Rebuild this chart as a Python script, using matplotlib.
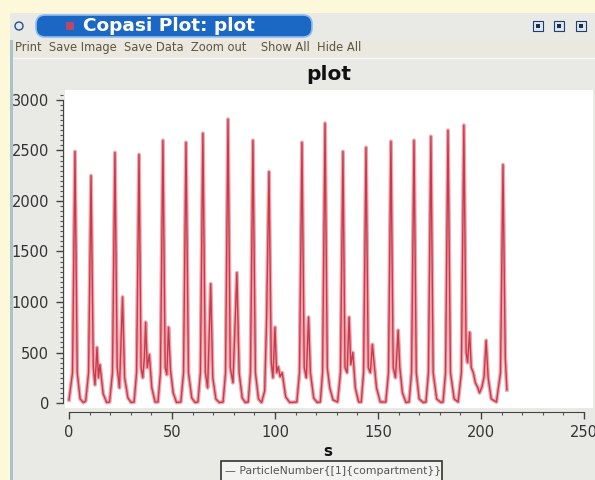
import matplotlib
matplotlib.use('Agg')
import matplotlib.pyplot as plt
import numpy as np
from matplotlib.patches import Rectangle, FancyBboxPatch, Circle
from matplotlib.ticker import MultipleLocator

# time course (one row per oscillation)
time_s = [
    0.0, 1.7, 2.9, 4.0, 5.4, 7.0,
    8.1, 9.5, 10.7, 11.8, 12.6, 13.6, 14.3, 15.0, 16.6, 18.3, 19.7,
    21.1, 22.3, 23.4, 24.5, 26.0, 27.0, 28.6, 30.2, 31.6,
    32.8, 34.0, 35.0, 35.8, 36.6, 37.2, 38.0, 39.0, 40.2, 41.8, 43.2,
    44.4, 45.6, 46.7, 47.5, 48.3, 49.3, 50.6, 52.2, 54.3,
    55.6, 56.8, 58.0, 59.6, 61.2, 62.6,
    63.8, 65.0, 66.2, 67.3, 68.8, 69.8, 71.3, 73.0, 74.8,
    76.0, 77.2, 78.3, 79.6, 81.5, 82.6, 84.1, 85.6, 87.0,
    88.1, 89.3, 90.5, 92.0, 93.5, 95.0,
    95.9, 97.1, 98.2, 99.0, 100.0, 100.8, 101.6, 102.5, 103.5, 105.2, 107.2, 110.6,
    111.9, 113.1, 114.2, 115.2, 116.3, 117.2, 118.8, 120.5, 122.0,
    123.1, 124.3, 125.4, 126.6, 128.2, 130.4,
    131.8, 133.0, 134.0, 135.0, 136.0, 136.8, 137.8, 139.0, 140.6, 141.9,
    143.0, 144.2, 145.3, 146.3, 147.3, 148.1, 149.3, 151.1, 153.8,
    155.1, 156.3, 157.4, 158.5, 159.8, 160.6, 161.9, 163.6, 165.1,
    166.3, 167.5, 168.6, 170.0, 172.0, 173.3,
    174.5, 175.7, 176.8, 178.5, 180.6, 181.6,
    182.8, 184.0, 185.2, 187.0, 188.9,
    190.5, 191.7, 192.8, 193.5, 194.5, 195.3, 196.3, 197.3, 198.3, 199.3, 200.5, 201.5, 202.5, 203.5, 205.0, 207.5,
    209.5, 210.7, 211.8, 212.6,
]
particles = [
    30, 300, 2490, 300, 40, 5,
    20, 300, 2250, 350, 180, 550, 250, 380, 90, 5, 10,
    300, 2480, 350, 150, 1050, 250, 50, 5, 10,
    300, 2460, 350, 250, 450, 800, 350, 480, 150, 10, 10,
    300, 2600, 350, 280, 750, 320, 100, 5, 10,
    300, 2580, 300, 50, 5, 10,
    300, 2670, 300, 150, 1180, 250, 40, 5, 10,
    300, 2810, 350, 200, 1290, 300, 50, 5, 10,
    300, 2600, 300, 40, 5, 120,
    800, 2290, 400, 250, 750, 300, 360, 260, 300, 60, 5, 10,
    300, 2580, 350, 250, 850, 300, 50, 5, 10,
    300, 2770, 350, 150, 30, 10,
    300, 2490, 350, 300, 850, 380, 500, 150, 10, 10,
    300, 2530, 350, 300, 580, 400, 150, 10, 10,
    300, 2590, 350, 250, 720, 350, 100, 5, 10,
    300, 2600, 300, 40, 5, 10,
    300, 2640, 300, 40, 5, 10,
    300, 2700, 300, 40, 10,
    300, 2750, 500, 400, 700, 350, 300, 200, 160, 100, 160, 260, 620, 250, 40, 10,
    300, 2360, 450, 130,
]

x_ticks = [0, 50, 100, 150, 200, 250]
y_ticks = [0, 500, 1000, 1500, 2000, 2500, 3000]
curve_name = "ParticleNumber{[1]{compartment}}"

W, H = 595, 480
cream = '#fdf8da'


def fx(px):
    return px / W


def fy(py):
    return 1 - py / H


fig = plt.figure(figsize=(5.95, 4.8), dpi=100)
fig.patch.set_facecolor(cream)

# window decoration drawn in pixel coordinates
frame = fig.add_axes([0, 0, 1, 1], zorder=-1)
frame.axis('off')
frame.add_patch(Rectangle((10, 13), 600, 480, fc='#e9e9e5', ec='none'))
grad = np.linspace(0, 1, 30)[:, None]
top_c = np.array([0.30, 0.55, 0.85])
bot_c = np.array([0.02, 0.36, 0.70])
img = top_c + (bot_c - top_c) * grad
frame.imshow(img[:, None, :].repeat(2, axis=1), extent=(10, 600, 40, 13), aspect='auto')
frame.add_patch(FancyBboxPatch((36, 15), 276, 22, boxstyle='round,pad=0,rounding_size=9',
                               fc='#1a68c4', ec='#8fbdf0', lw=1.2))
frame.add_patch(Circle((19, 26), 4, fc='#dfe8f3', ec='#2c4f80', lw=1))
frame.add_patch(Rectangle((66, 22), 8, 8, fc='#b8486a', ec='none'))
frame.text(83, 26, 'Copasi Plot: plot', color='white', fontsize=13.3, fontweight='bold', va='center')
for px in [538, 559, 581]:
    frame.add_patch(Rectangle((px - 5, 21), 10, 10, fc='#dfe6ef', ec='#1c3f70', lw=0.8))
    frame.add_patch(Rectangle((px - 2, 24), 4, 4, fc='#20304a', ec='none'))

# toolbar
frame.add_patch(Rectangle((10, 40), 600, 17, fc='#ebe8df', ec='none'))
frame.plot([10, 600], [57.5, 57.5], color='#f8f8f6', lw=1)
frame.text(15, 48, 'Print  Save Image  Save Data  Zoom out    Show All  Hide All',
           color='#5e553f', fontsize=8.3, va='center')

frame.text(329, 74, 'plot', fontsize=14.5, fontweight='bold', ha='center', va='center', color='#111')
frame.text(328, 451, 's', fontsize=11, fontweight='bold', ha='center', va='center', color='#111')

# legend box
frame.add_patch(Rectangle((221, 461), 221, 24, fc='#f3f3f1', ec='#333333', lw=1.2))
frame.text(225, 471, '\u2014 ' + curve_name, fontsize=7.8, color='#555', va='center')

frame.set_xlim(0, W)
frame.set_ylim(H, 0)

# plot canvas
ax = fig.add_axes([fx(65), fy(408), (593 - 65) / W, (408 - 90) / H])
ax.set_facecolor('white')
ax.plot(time_s, particles, color='#f0a4ab', lw=2.8, solid_joinstyle='round')
ax.plot(time_s, particles, color='#c83a4c', lw=1.0, solid_joinstyle='round')
ax.set_xlim(-1.94, 254.4)
ax.set_ylim(-49.5, 3099)

for side in ['top', 'right']:
    ax.spines[side].set_visible(False)
ax.spines['left'].set_position(('outward', 1.5))
ax.spines['left'].set_bounds(0, 3000)
ax.spines['bottom'].set_position(('outward', 2.9))
ax.spines['bottom'].set_bounds(0, 250)
for side in ['left', 'bottom']:
    ax.spines[side].set_color('#444')

ax.set_xticks(x_ticks)
ax.set_yticks(y_ticks)
ax.xaxis.set_minor_locator(MultipleLocator(10))
ax.yaxis.set_minor_locator(MultipleLocator(50))
ax.tick_params(which='major', length=5, width=1, color='#444', labelsize=10.5, labelcolor='#333')
ax.tick_params(which='minor', length=2.5, width=0.8, color='#555')
ax.tick_params(axis='y', pad=5)
ax.tick_params(axis='x', pad=4)

# window border on the left, over the cut tick labels
fig.add_artist(Rectangle((0, 0), fx(10), fy(13), transform=fig.transFigure, fc=cream, ec='none', zorder=5))
fig.add_artist(Rectangle((fx(10), 0), fx(2.5), fy(40), transform=fig.transFigure,
                         fc='#a9c3cd', ec='none', zorder=5))

fig.savefig('out.png', dpi=100, facecolor=fig.get_facecolor())
